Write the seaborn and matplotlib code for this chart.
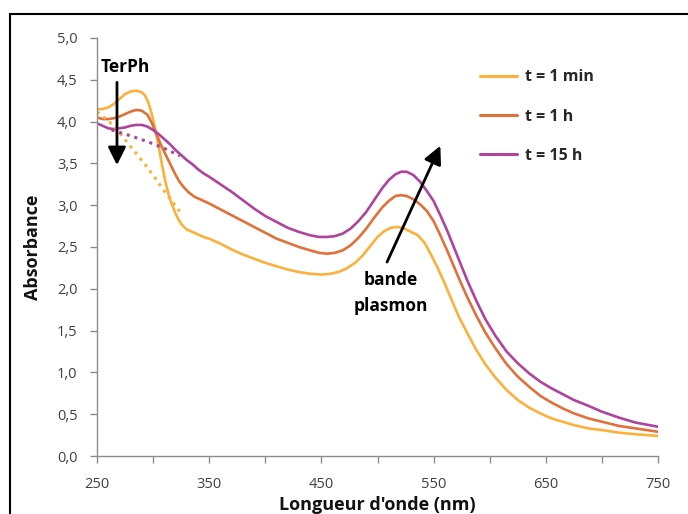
import numpy as np
import pandas as pd
import matplotlib
matplotlib.use("Agg")
import matplotlib.pyplot as plt
import matplotlib.patches as patches
from matplotlib.ticker import FuncFormatter, MultipleLocator
import seaborn as sns

# ---- data ----
wl_1min = [250, 255, 260, 265, 270, 275, 280, 285, 290, 293, 296, 299, 302, 305, 308, 311, 314, 317, 320, 323, 326,
           330, 335, 340, 345, 350, 360, 370, 380, 390, 400, 410, 420, 430, 440, 450, 458, 465, 472, 480, 487, 494,
           500, 506, 512, 518, 524, 530, 536, 542, 548, 554, 560, 566, 572, 580, 588, 596, 605, 615, 625, 635, 645,
           655, 665, 675, 688, 700, 715, 730, 750]
abs_1min = [4.15, 4.15, 4.17, 4.21, 4.27, 4.33, 4.36, 4.37, 4.35, 4.31, 4.22, 4.08, 3.90, 3.70, 3.48, 3.28, 3.12,
            3.00, 2.90, 2.82, 2.76, 2.71, 2.68, 2.65, 2.62, 2.60, 2.54, 2.47, 2.41, 2.36, 2.31, 2.27, 2.23, 2.20,
            2.18, 2.17, 2.18, 2.20, 2.24, 2.31, 2.40, 2.52, 2.62, 2.69, 2.73, 2.74, 2.72, 2.68, 2.64, 2.55, 2.40,
            2.24, 2.06, 1.87, 1.68, 1.47, 1.27, 1.10, 0.94, 0.79, 0.67, 0.58, 0.51, 0.45, 0.41, 0.37, 0.33, 0.31,
            0.28, 0.26, 0.24]

wl_1h = [250, 255, 260, 265, 270, 275, 280, 285, 290, 295, 299, 303, 307, 311, 315, 319, 323, 327, 332, 337, 342,
         350, 360, 370, 380, 390, 400, 410, 420, 430, 440, 448, 455, 462, 469, 476, 483, 490, 497, 504, 510, 516,
         521, 526, 532, 538, 544, 550, 556, 562, 568, 574, 580, 588, 596, 605, 615, 625, 635, 645, 655, 665, 675,
         688, 700, 715, 730, 750]
abs_1h = [4.05, 4.03, 4.03, 4.04, 4.06, 4.09, 4.12, 4.14, 4.13, 4.08, 3.98, 3.85, 3.72, 3.61, 3.50, 3.39, 3.29,
          3.22, 3.15, 3.10, 3.07, 3.02, 2.95, 2.88, 2.81, 2.74, 2.67, 2.60, 2.55, 2.50, 2.46, 2.43, 2.42, 2.43,
          2.46, 2.52, 2.61, 2.72, 2.85, 2.97, 3.05, 3.11, 3.12, 3.11, 3.07, 3.01, 2.93, 2.81, 2.64, 2.46, 2.27,
          2.08, 1.90, 1.68, 1.48, 1.29, 1.10, 0.95, 0.83, 0.72, 0.64, 0.57, 0.51, 0.45, 0.41, 0.36, 0.33, 0.29]

wl_15h = [250, 255, 260, 265, 270, 275, 280, 285, 290, 295, 300, 305, 310, 315, 320, 325, 330, 335, 340, 345, 350,
          360, 370, 380, 390, 400, 410, 420, 430, 440, 448, 455, 462, 469, 476, 483, 490, 497, 504, 510, 516, 521,
          526, 532, 538, 544, 550, 556, 562, 568, 574, 580, 588, 596, 605, 615, 625, 635, 645, 655, 665, 675, 688,
          700, 715, 730, 750]
abs_15h = [3.98, 3.95, 3.92, 3.91, 3.92, 3.93, 3.95, 3.96, 3.96, 3.94, 3.90, 3.85, 3.79, 3.73, 3.66, 3.60, 3.54,
           3.49, 3.43, 3.38, 3.34, 3.25, 3.16, 3.06, 2.96, 2.87, 2.80, 2.73, 2.68, 2.64, 2.62, 2.62, 2.63, 2.66,
           2.72, 2.81, 2.92, 3.06, 3.20, 3.30, 3.37, 3.40, 3.40, 3.36, 3.28, 3.17, 3.05, 2.88, 2.70, 2.50, 2.30,
           2.10, 1.86, 1.64, 1.44, 1.25, 1.11, 0.99, 0.89, 0.81, 0.74, 0.67, 0.60, 0.53, 0.46, 0.40, 0.35]

# dotted baselines (TerPh contribution removed)
wl_dot_1min = [250, 265, 280, 295, 310, 324]
abs_dot_1min = [4.12, 3.95, 3.70, 3.45, 3.17, 2.92]
wl_dot_15h = [263, 280, 295, 310, 324]
abs_dot_15h = [3.90, 3.83, 3.76, 3.68, 3.59]

labels = ["t = 1 min", "t = 1 h", "t = 15 h"]
colors = ["#FBB13C", "#E2703A", "#B0439C"]

x_ticks = [250, 350, 450, 550, 650, 750]

df = pd.concat([
    pd.DataFrame({"wl": wl_1min, "A": abs_1min, "serie": labels[0]}),
    pd.DataFrame({"wl": wl_1h, "A": abs_1h, "serie": labels[1]}),
    pd.DataFrame({"wl": wl_15h, "A": abs_15h, "serie": labels[2]}),
])
df_dot = pd.concat([
    pd.DataFrame({"wl": wl_dot_1min, "A": abs_dot_1min, "serie": labels[0]}),
    pd.DataFrame({"wl": wl_dot_15h, "A": abs_dot_15h, "serie": labels[2]}),
])

sns.set_theme(style="white")
plt.rcParams["font.family"] = ["Open Sans", "DejaVu Sans"]

fig = plt.figure(figsize=(6.88, 5.14), dpi=100)
ax = fig.add_axes([97 / 688, 1 - 456 / 514, (658 - 97) / 688, (456 - 38) / 514])

palette = dict(zip(labels, colors))
sns.lineplot(data=df, x="wl", y="A", hue="serie", palette=palette, lw=1.9, ax=ax, sort=False)
sns.lineplot(data=df_dot, x="wl", y="A", hue="serie", palette=palette, lw=2.2, ax=ax,
             linestyle=(0, (1, 1.6)), legend=False, sort=False)

ax.set_xlim(250, 750)
ax.set_ylim(0, 5)
ax.set_xticks(x_ticks)
ax.xaxis.set_minor_locator(MultipleLocator(50))
ax.yaxis.set_major_locator(MultipleLocator(0.5))
ax.yaxis.set_major_formatter(FuncFormatter(lambda v, p: f"{v:.1f}".replace(".", ",")))

for s in ["top", "right"]:
    ax.spines[s].set_visible(False)
for s in ["left", "bottom"]:
    ax.spines[s].set_color("#8C8C8C")
    ax.spines[s].set_linewidth(1.0)
ax.tick_params(axis="both", which="both", direction="out", length=5, width=1, color="#8C8C8C",
               labelsize=10.5, labelcolor="#404040", left=True, bottom=True)
ax.tick_params(axis="x", pad=10)
ax.tick_params(axis="y", pad=9)

ax.set_xlabel("Longueur d'onde (nm)", fontsize=13, fontweight="bold", color="#111111", labelpad=3)
ax.set_ylabel("Absorbance", fontsize=13, fontweight="bold", color="#111111", labelpad=11)

leg = ax.legend(loc="upper left", bbox_to_anchor=(466 / 688, 1 - 55 / 514), bbox_transform=fig.transFigure,
                frameon=False, fontsize=11.5, handlelength=2.3, labelspacing=1.45, handletextpad=0.5)
for t in leg.get_texts():
    t.set_fontweight("bold")
for l in leg.get_lines():
    l.set_linewidth(2.2)

# annotations
ax.text(275, 4.65, "TerPh", fontsize=12.5, fontweight="bold", ha="center", va="center", color="black")
ax.annotate("", xy=(267.8, 3.48), xytext=(267.8, 4.47),
            arrowprops=dict(arrowstyle="-|>,head_length=0.9,head_width=0.45", color="black", lw=2,
                            shrinkA=0, shrinkB=0))
ax.annotate("", xy=(556, 3.71), xytext=(508.5, 2.32),
            arrowprops=dict(arrowstyle="-|>,head_length=0.9,head_width=0.45", color="black", lw=2,
                            shrinkA=0, shrinkB=0))
ax.text(512, 2.11, "bande", fontsize=12.5, fontweight="bold", ha="center", va="center", color="black")
ax.text(512, 1.79, "plasmon", fontsize=12.5, fontweight="bold", ha="center", va="center", color="black")

# outer frame
rect = patches.Rectangle((10 / 688, -0.2), 1.2, 1 - 14 / 514 + 0.2, transform=fig.transFigure,
                         fill=False, edgecolor="black", lw=1.5, clip_on=False)
fig.patches.append(rect)

fig.savefig("out.png", dpi=100)
